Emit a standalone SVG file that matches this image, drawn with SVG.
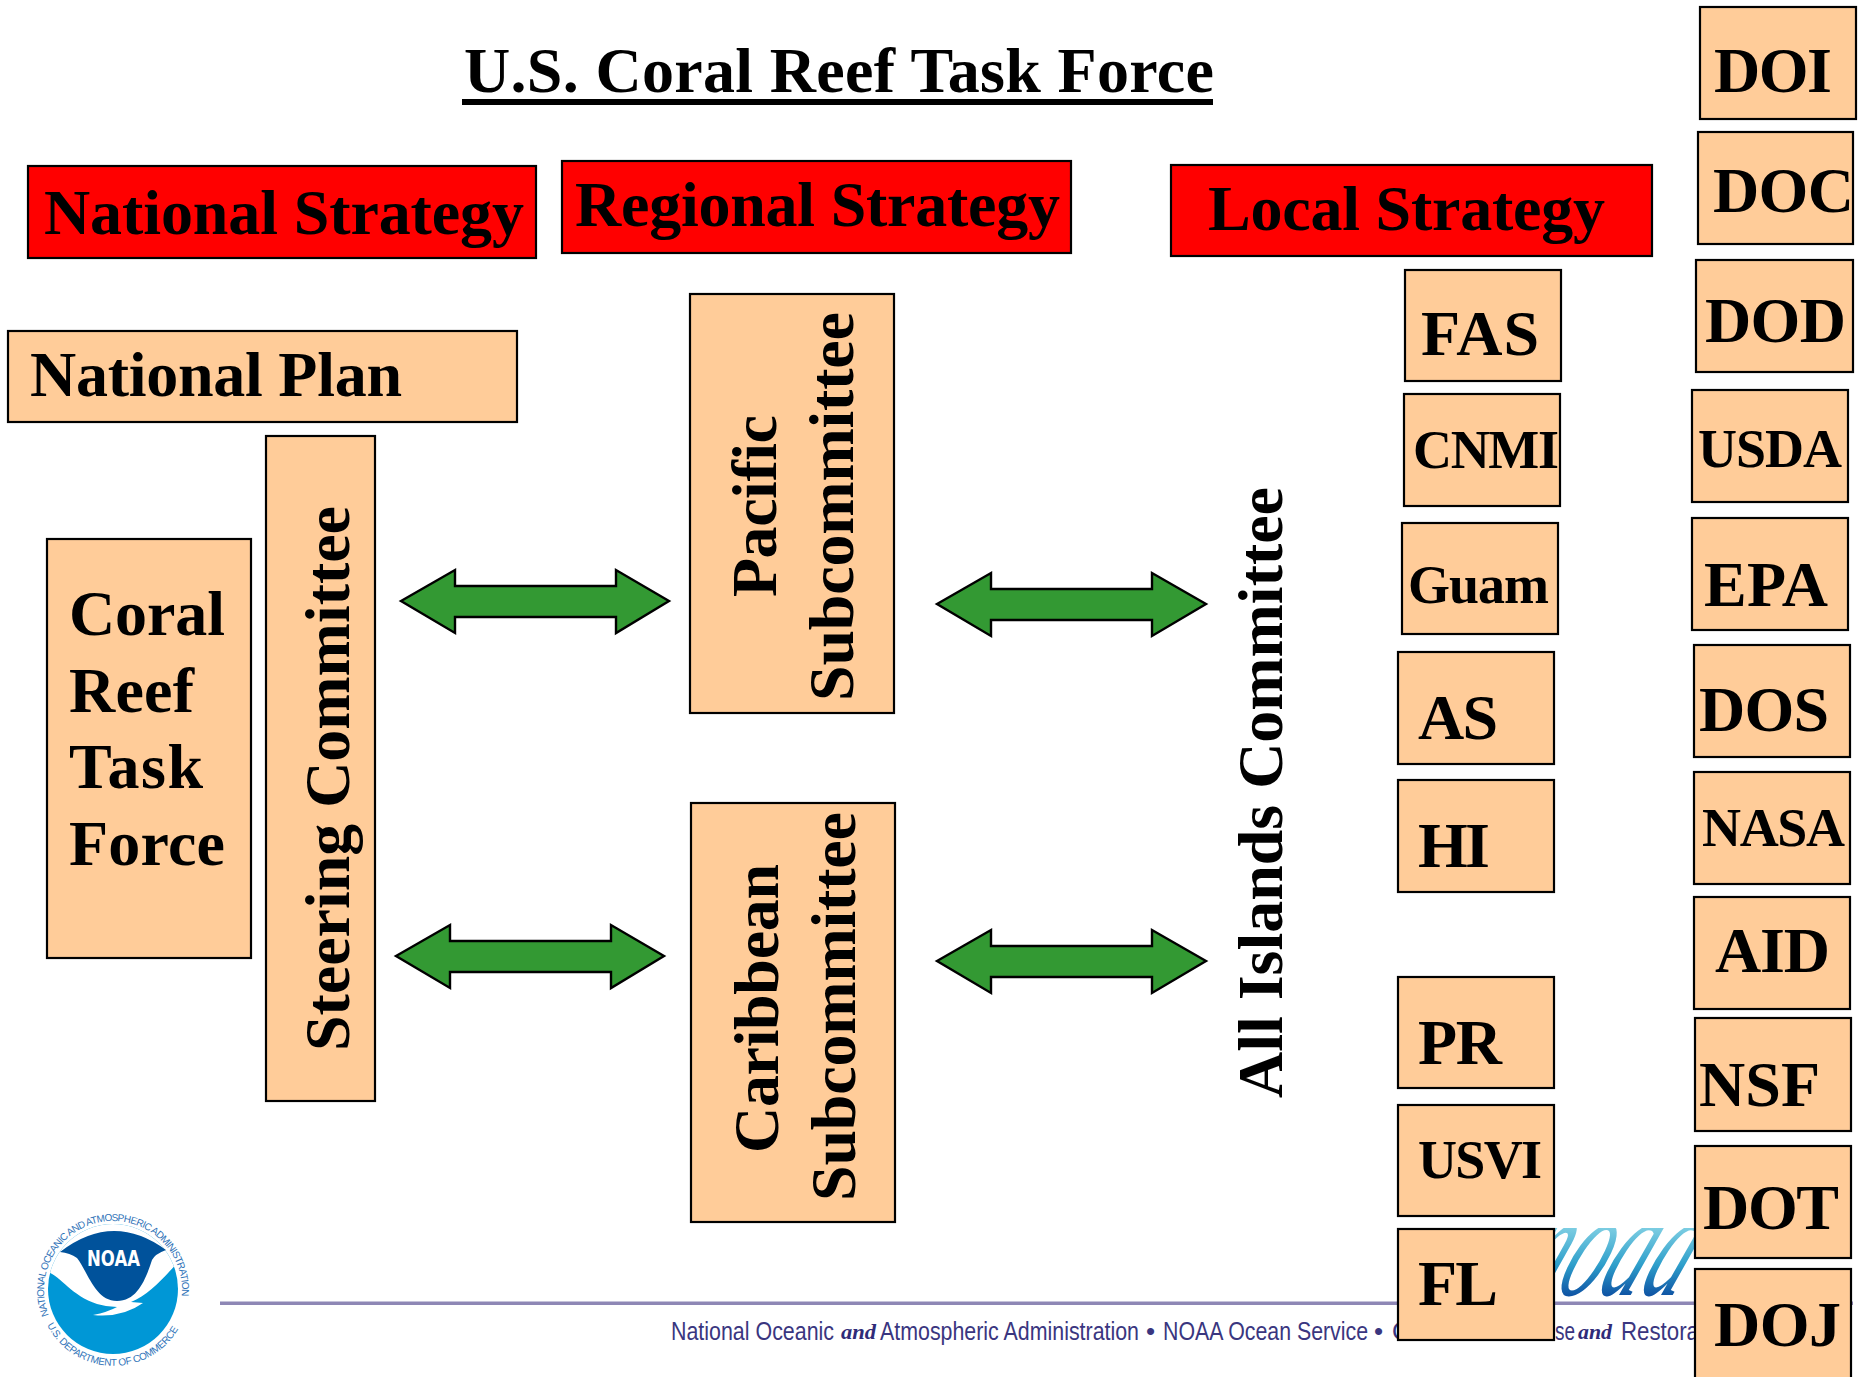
<svg xmlns="http://www.w3.org/2000/svg" width="1870" height="1377" viewBox="0 0 1870 1377">
<style>
.b{fill:#FFCC99;stroke:#000;stroke-width:2.2}
.r{fill:#FF0000;stroke:#000;stroke-width:2.2}
text{font-family:"Liberation Serif","Times New Roman",serif}
.t{font-weight:700;font-size:64px;fill:#000}
.s{font-size:54px}
.f{font-family:"Liberation Sans",Arial,sans-serif;font-size:26px;fill:#3A3680}
.a{font-weight:700;font-style:italic;font-size:22px;fill:#2F2B78}
.arrow{fill:#339933;stroke:#000;stroke-width:2.4;stroke-linejoin:miter}
.ring{font-family:"Liberation Sans",Arial,sans-serif;font-size:10px;fill:#2F73B8}
.n{font-family:"DejaVu Sans",sans-serif;font-weight:700;font-size:22px;fill:#fff}
.script{font-size:150px;font-style:italic}
</style>
<defs>
<linearGradient id="ng" gradientUnits="userSpaceOnUse" x1="0" y1="-67" x2="0" y2="0"><stop offset="0" stop-color="#7CCDE2"/><stop offset=".55" stop-color="#2E9FCB"/><stop offset="1" stop-color="#0F55A5"/></linearGradient>
<clipPath id="nc"><rect x="1500" y="1228" width="260" height="72"/></clipPath>
<clipPath id="lc"><circle cx="113" cy="1289" r="65"/></clipPath>
<path id="top" d="M48.700 1315A69 69 0 1 1 177.300 1315"/>
<path id="bot" d="M47 1325A75 75 0 0 0 180 1326"/>
</defs>
<g id="footer">
<rect x="220" y="1301.500" width="1633" height="3.500" fill="#8E87B5"/>
<g clip-path="url(#nc)"><text class="script" transform="translate(1510 1295) skewX(-25)" fill="url(#ng)" textLength="168" lengthAdjust="spacingAndGlyphs">noaa</text></g>
<text class="f" x="671" y="1340" textLength="163" lengthAdjust="spacingAndGlyphs">National Oceanic</text>
<text class="a" x="841" y="1339" textLength="35" lengthAdjust="spacingAndGlyphs">and</text>
<text class="f" x="880" y="1340" textLength="259" lengthAdjust="spacingAndGlyphs">Atmospheric Administration</text>
<text class="f" x="1146" y="1340">•</text>
<text class="f" x="1163" y="1340" textLength="205" lengthAdjust="spacingAndGlyphs">NOAA Ocean Service</text>
<text class="f" x="1374" y="1340">•</text>
<text class="f" x="1392" y="1340">O</text>
<text class="f" x="1555" y="1340" textLength="20" lengthAdjust="spacingAndGlyphs">se</text>
<text class="a" x="1578" y="1339" textLength="34" lengthAdjust="spacingAndGlyphs">and</text>
<text class="f" x="1621" y="1340" textLength="78" lengthAdjust="spacingAndGlyphs">Restora</text>
</g>
<g id="noaa-logo">
<circle cx="113" cy="1289" r="65" fill="#0097D6"/>
<g clip-path="url(#lc)">
<path d="M40 1272H48C60 1276 72 1296 97 1304Q107 1307 117 1307Q108 1312 93 1315Q122 1318 143 1303L131 1302C148 1295 162 1280 177 1263L190 1250V1220H40Z" fill="#fff"/>
</g>
<path d="M60 1252Q113 1211 166 1250Q155 1254 152 1260C146 1278 138 1301 117 1301C95 1301 88 1272 77 1258Q70 1253 60 1252Z" fill="#00529B"/>
<text class="n" x="87" y="1266" textLength="53" lengthAdjust="spacingAndGlyphs">NOAA</text>
<text class="ring" letter-spacing="-.75"><textPath href="#top">NATIONAL OCEANIC AND ATMOSPHERIC ADMINISTRATION</textPath></text>
<text class="ring" letter-spacing="-.35"><textPath href="#bot">U.S. DEPARTMENT OF COMMERCE</textPath></text>
</g>
<g id="title"><text class="t" x="464" y="92" textLength="750">U.S. Coral Reef Task Force</text><rect x="462" y="99" width="751" height="6"/></g>
<g id="connectors">
<path class="arrow" d="M401 601L455 570V586H616V570L669 601L616 633V617H455V633Z"/>
<path class="arrow" d="M396 956L450 925V941H611V925L664 956L611 988V972H450V988Z"/>
<path class="arrow" d="M937 604L991 573V589H1152V573L1206 604L1152 636V620H991V636Z"/>
<path class="arrow" d="M937 961L991 930V946H1152V930L1206 961L1152 993V977H991V993Z"/>
</g>
<g id="national-strategy"><rect class="r" x="28" y="166" width="508" height="92"/><text class="t" x="44" y="234" textLength="480">National Strategy</text></g>
<g id="regional-strategy"><rect class="r" x="562" y="161" width="509" height="92"/><text class="t" x="575" y="226" textLength="485">Regional Strategy</text></g>
<g id="local-strategy"><rect class="r" x="1171" y="165" width="481" height="91"/><text class="t" x="1208" y="230" textLength="397">Local Strategy</text></g>
<g id="national-plan"><rect class="b" x="8" y="331" width="509" height="91"/><text class="t" x="30" y="396" textLength="372">National Plan</text></g>
<g id="coral-reef-task-force"><rect class="b" x="47" y="539" width="204" height="419"/>
<text class="t" x="69" y="635" textLength="156">Coral</text><text class="t" x="69" y="712" textLength="125">Reef</text><text class="t" x="69" y="788" textLength="134">Task</text><text class="t" x="69" y="865" textLength="156">Force</text></g>
<g id="steering-committee"><rect class="b" x="266" y="436" width="109" height="665"/><text class="t" transform="translate(349 1051) rotate(-90)" textLength="545">Steering Committee</text></g>
<g id="pacific-subcommittee"><rect class="b" x="690" y="294" width="204" height="419"/><text class="t" transform="translate(776 597) rotate(-90)" textLength="182">Pacific</text><text class="t" transform="translate(853 701) rotate(-90)" textLength="389">Subcommittee</text></g>
<g id="caribbean-subcommittee"><rect class="b" x="691" y="803" width="204" height="419"/><text class="t" transform="translate(778 1153) rotate(-90)" textLength="289">Caribbean</text><text class="t" transform="translate(855 1201) rotate(-90)" textLength="389">Subcommittee</text></g>
<g id="all-islands-committee"><text class="t" transform="translate(1282 1098) rotate(-90)" textLength="611">All Islands Committee</text></g>
<g id="fas"><rect class="b" x="1405" y="270" width="156" height="111"/><text class="t" x="1421" y="355" textLength="118">FAS</text></g>
<g id="cnmi"><rect class="b" x="1404" y="394" width="156" height="112"/><text class="t s" x="1413" y="468" textLength="146">CNMI</text></g>
<g id="guam"><rect class="b" x="1402" y="523" width="156" height="111"/><text class="t s" x="1408" y="603" textLength="141">Guam</text></g>
<g id="as"><rect class="b" x="1398" y="652" width="156" height="112"/><text class="t" x="1418" y="739" textLength="80">AS</text></g>
<g id="hi"><rect class="b" x="1398" y="780" width="156" height="112"/><text class="t" x="1418" y="867" textLength="72">HI</text></g>
<g id="pr"><rect class="b" x="1398" y="977" width="156" height="111"/><text class="t" x="1418" y="1064" textLength="84">PR</text></g>
<g id="usvi"><rect class="b" x="1398" y="1105" width="156" height="111"/><text class="t s" x="1418" y="1178" textLength="124">USVI</text></g>
<g id="fl"><rect class="b" x="1398" y="1229" width="156" height="111"/><text class="t" x="1418" y="1305" textLength="80">FL</text></g>
<g id="doi"><rect class="b" x="1700" y="7" width="156" height="112"/><text class="t" x="1714" y="92" textLength="118">DOI</text></g>
<g id="doc"><rect class="b" x="1698" y="132" width="155" height="112"/><text class="t" x="1713" y="212" textLength="141">DOC</text></g>
<g id="dod"><rect class="b" x="1696" y="260" width="157" height="112"/><text class="t" x="1705" y="342" textLength="141">DOD</text></g>
<g id="usda"><rect class="b" x="1692" y="390" width="156" height="112"/><text class="t s" x="1698" y="467" textLength="144">USDA</text></g>
<g id="epa"><rect class="b" x="1692" y="518" width="156" height="112"/><text class="t" x="1704" y="606" textLength="124">EPA</text></g>
<g id="dos"><rect class="b" x="1694" y="645" width="156" height="112"/><text class="t" x="1699" y="731" textLength="130">DOS</text></g>
<g id="nasa"><rect class="b" x="1694" y="772" width="156" height="112"/><text class="t s" x="1702" y="846" textLength="143">NASA</text></g>
<g id="aid"><rect class="b" x="1694" y="897" width="156" height="112"/><text class="t" x="1715" y="972" textLength="115">AID</text></g>
<g id="nsf"><rect class="b" x="1695" y="1018" width="156" height="113"/><text class="t" x="1699" y="1106" textLength="121">NSF</text></g>
<g id="dot"><rect class="b" x="1695" y="1146" width="156" height="112"/><text class="t" x="1703" y="1229" textLength="136">DOT</text></g>
<g id="doj"><rect class="b" x="1695" y="1269" width="156" height="112"/><text class="t" x="1714" y="1346" textLength="127">DOJ</text></g>
</svg>
